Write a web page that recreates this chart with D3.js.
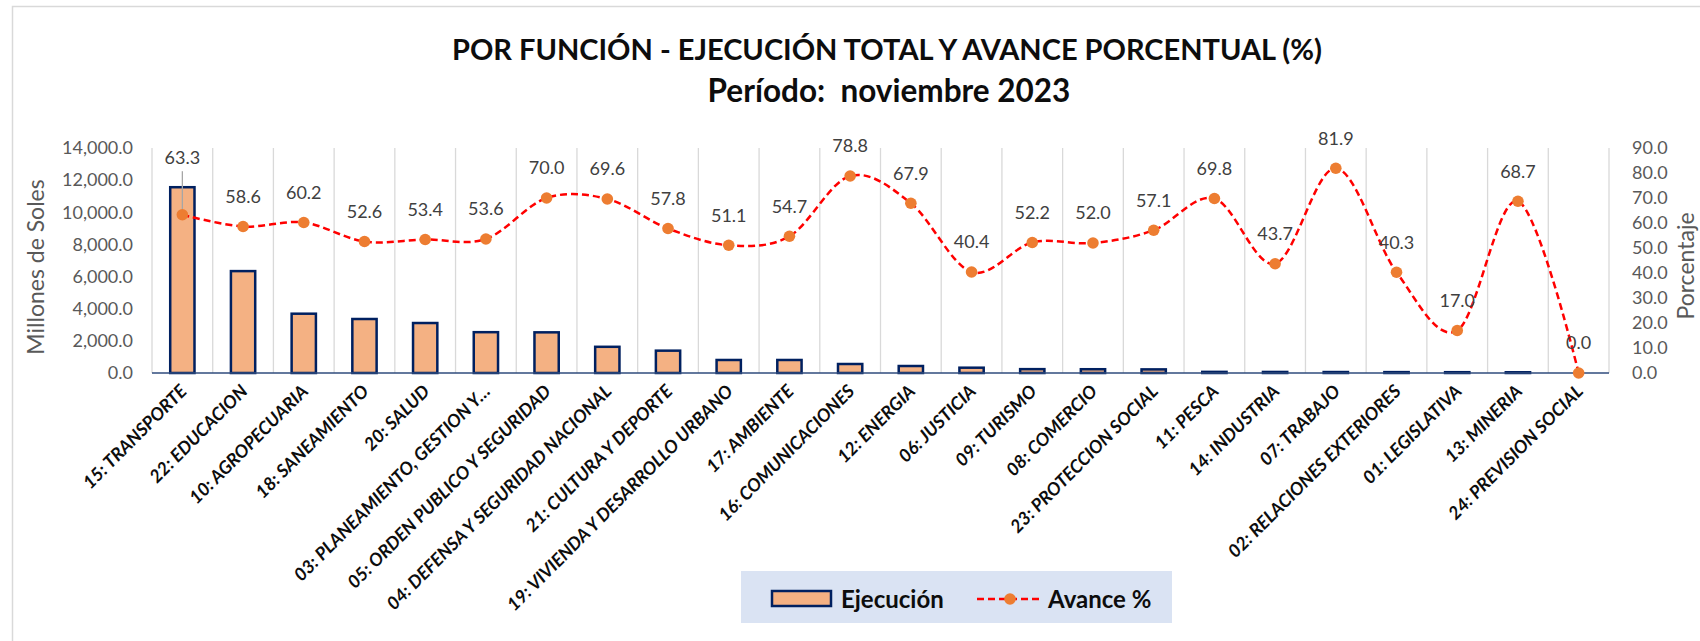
<!DOCTYPE html>
<meta charset="utf-8">
<style>
  body { margin: 0; background: #fff; font-family: Lato, sans-serif; }
  svg { display: block; }
  .tick text { font-family: Lato, sans-serif; }
</style>
<body>
<svg id="chart" width="1700" height="641"></svg>
<script src="https://d3js.org/d3.v7.min.js"></script>
<script>
  const categorias = [
    "15: TRANSPORTE", "22: EDUCACION", "10: AGROPECUARIA", "18: SANEAMIENTO", "20: SALUD",
    "03: PLANEAMIENTO, GESTION Y…", "05: ORDEN PUBLICO Y SEGURIDAD", "04: DEFENSA Y SEGURIDAD NACIONAL",
    "21: CULTURA Y DEPORTE", "19: VIVIENDA Y DESARROLLO URBANO", "17: AMBIENTE", "16: COMUNICACIONES",
    "12: ENERGIA", "06: JUSTICIA", "09: TURISMO", "08: COMERCIO", "23: PROTECCION SOCIAL",
    "11: PESCA", "14: INDUSTRIA", "07: TRABAJO", "02: RELACIONES EXTERIORES", "01: LEGISLATIVA",
    "13: MINERIA", "24: PREVISION SOCIAL"
  ];
  // millones de soles
  const ejecucion = [
    11560, 6340, 3690, 3360, 3110, 2540, 2530, 1630, 1390, 810, 810, 560,
    435, 330, 240, 235, 225, 70, 65, 60, 55, 50, 45, 0
  ];
  // avance %
  const avance = [
    63.3, 58.6, 60.2, 52.6, 53.4, 53.6, 70.0, 69.6, 57.8, 51.1, 54.7, 78.8,
    67.9, 40.4, 52.2, 52.0, 57.1, 69.8, 43.7, 81.9, 40.3, 17.0, 68.7, 0.0
  ];
  const ticksSoles = d3.range(0, 14001, 2000);
  const ticksPct = d3.range(0, 91, 10);

  const svg = d3.select("#chart");
  const pLeft = 152, pRight = 1609, pTop = 148, pBottom = 373;

  // borde del área del gráfico
  svg.append("rect")
    .attr("x", 12.5).attr("y", 6.5)
    .attr("width", 1720).attr("height", 700)
    .attr("fill", "none").attr("stroke", "#d9d9d9").attr("stroke-width", 1.5);

  // títulos
  svg.append("text")
    .attr("x", 887).attr("y", 60)
    .attr("text-anchor", "middle")
    .attr("font-size", 29).attr("font-weight", 700).attr("fill", "#0d0d0d")
    .text("POR FUNCIÓN - EJECUCIÓN TOTAL Y AVANCE PORCENTUAL (%)");
  svg.append("text")
    .attr("x", 889).attr("y", 102)
    .attr("text-anchor", "middle")
    .attr("font-size", 31.5).attr("font-weight", 700).attr("fill", "#0d0d0d")
    .style("white-space", "pre")
    .text("Período:  noviembre 2023");

  const x = d3.scaleBand().domain(categorias).range([pLeft, pRight]);
  const y0 = d3.scaleLinear().domain([0, 14000]).range([pBottom, pTop]);
  const y1 = d3.scaleLinear().domain([0, 90]).range([pBottom, pTop]);
  const bw = x.bandwidth();

  // líneas de división verticales
  const cortes = categorias.map(c => x(c)).concat([pRight]);
  svg.append("g")
    .selectAll("line")
    .data(cortes)
    .join("line")
    .attr("x1", d => d).attr("x2", d => d)
    .attr("y1", pTop).attr("y2", pBottom)
    .attr("stroke", "#d9d9d9").attr("stroke-width", 1.3);

  // ejes
  const axL = svg.append("g")
    .attr("transform", `translate(${pLeft},0)`)
    .call(d3.axisLeft(y0).tickValues(ticksSoles).tickFormat(d3.format(",.1f")).tickSize(0).tickPadding(19));
  const axR = svg.append("g")
    .attr("transform", `translate(${pRight},0)`)
    .call(d3.axisRight(y1).tickValues(ticksPct).tickFormat(d3.format(".1f")).tickSize(0).tickPadding(23));
  [axL, axR].forEach(a => {
    a.select(".domain").remove();
    a.selectAll("text").attr("font-size", 18).attr("fill", "#595959");
  });

  const axB = svg.append("g")
    .attr("transform", `translate(0,${pBottom})`)
    .call(d3.axisBottom(x).tickSize(0));
  axB.select(".domain").remove();
  axB.selectAll("text")
    .attr("x", 0).attr("y", 0).attr("dy", "0.35em")
    .attr("transform", "translate(1,15) rotate(-45)")
    .attr("text-anchor", "end")
    .attr("font-size", 18).attr("font-weight", 700).attr("font-style", "italic")
    .attr("fill", "#0d0d0d");

  // títulos de ejes
  svg.append("text")
    .attr("transform", "translate(44,267) rotate(-90)")
    .attr("text-anchor", "middle")
    .attr("font-size", 23).attr("fill", "#595959")
    .text("Millones de Soles");
  svg.append("text")
    .attr("transform", "translate(1694,266) rotate(-90)")
    .attr("text-anchor", "middle")
    .attr("font-size", 23).attr("fill", "#595959")
    .text("Porcentaje");

  // barras
  const barW = bw * 0.4;
  svg.append("g")
    .selectAll("rect")
    .data(ejecucion)
    .join("rect")
    .attr("x", (d, i) => x(categorias[i]) + (bw - barW) / 2)
    .attr("y", d => y0(d))
    .attr("width", barW)
    .attr("height", d => pBottom - y0(d))
    .attr("fill", "#F4B183")
    .attr("stroke", "#002060")
    .attr("stroke-width", 2.5);

  // eje base
  svg.append("line")
    .attr("x1", pLeft).attr("x2", pRight)
    .attr("y1", pBottom).attr("y2", pBottom)
    .attr("stroke", "#2F4B7C").attr("stroke-width", 1.5);

  // línea de avance
  const cx = i => x(categorias[i]) + bw / 2;
  const line = d3.line()
    .x((d, i) => cx(i))
    .y(d => y1(d))
    .curve(d3.curveCardinal.tension(0));
  svg.append("path")
    .datum(avance)
    .attr("d", line)
    .attr("fill", "none")
    .attr("stroke", "#FF0000")
    .attr("stroke-width", 2.5)
    .attr("stroke-dasharray", "7,4");

  // etiquetas de datos (si chocan con la barra, se suben con línea guía)
  const labY = avance.map((d, i) => {
    const py = y1(d);
    const barTop = y0(ejecucion[i]);
    return barTop < py - 22 ? barTop - 30 : py - 30;
  });
  svg.append("g")
    .selectAll("line")
    .data(avance.map((d, i) => i).filter(i => labY[i] < y1(avance[i]) - 40))
    .join("line")
    .attr("x1", i => cx(i)).attr("x2", i => cx(i))
    .attr("y1", i => labY[i] + 14).attr("y2", i => y1(avance[i]))
    .attr("stroke", "#a6a6a6").attr("stroke-width", 1.3);

  svg.append("g")
    .selectAll("circle")
    .data(avance)
    .join("circle")
    .attr("cx", (d, i) => cx(i))
    .attr("cy", d => y1(d))
    .attr("r", 5.8)
    .attr("fill", "#ED7D31");

  svg.append("g")
    .selectAll("text")
    .data(avance)
    .join("text")
    .attr("x", (d, i) => cx(i))
    .attr("y", (d, i) => labY[i])
    .attr("dy", "0.35em")
    .attr("text-anchor", "middle")
    .attr("font-size", 18).attr("fill", "#404040")
    .text(d => d3.format(".1f")(d));

  // leyenda
  const lg = svg.append("g");
  lg.append("rect")
    .attr("x", 741).attr("y", 571).attr("width", 431).attr("height", 52)
    .attr("fill", "#DAE3F3");
  lg.append("rect")
    .attr("x", 772).attr("y", 591).attr("width", 59).attr("height", 15)
    .attr("fill", "#F4B183").attr("stroke", "#002060").attr("stroke-width", 2.5);
  lg.append("text")
    .attr("x", 841).attr("y", 608)
    .attr("font-size", 24).attr("font-weight", 700).attr("fill", "#0d0d0d")
    .text("Ejecución");
  lg.append("line")
    .attr("x1", 977).attr("x2", 1040).attr("y1", 599).attr("y2", 599)
    .attr("stroke", "#FF0000").attr("stroke-width", 2.5).attr("stroke-dasharray", "7,4");
  lg.append("circle")
    .attr("cx", 1010).attr("cy", 599).attr("r", 5.8).attr("fill", "#ED7D31");
  lg.append("text")
    .attr("x", 1048).attr("y", 608)
    .attr("font-size", 24).attr("font-weight", 700).attr("fill", "#0d0d0d")
    .text("Avance %");
</script>
</body>
